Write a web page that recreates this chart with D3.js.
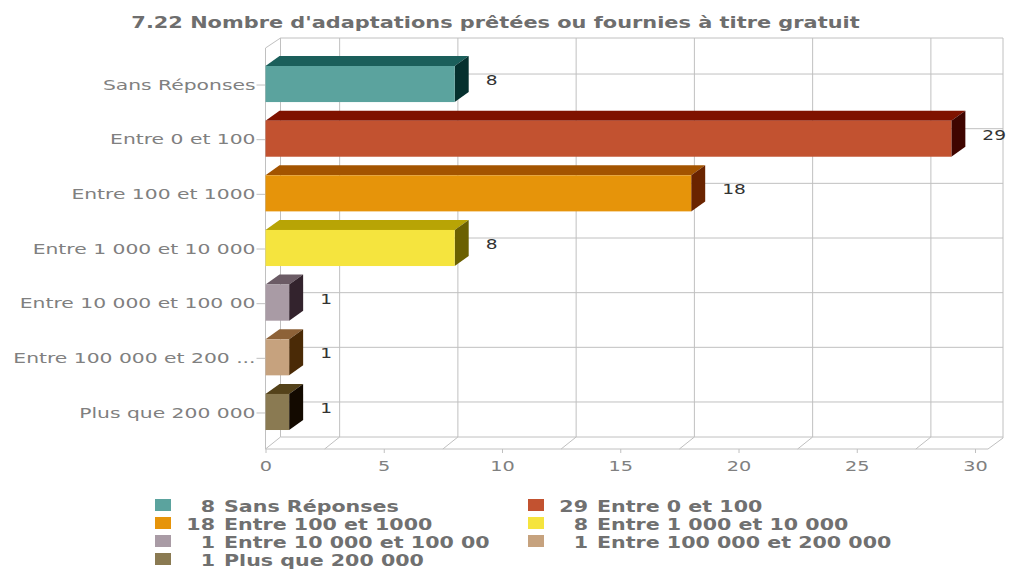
<!DOCTYPE html>
<html>
<head>
<meta charset="utf-8">
<script src="https://cdn.jsdelivr.net/npm/d3@7"></script>
<style>
  html, body { margin: 0; background: #fff; }
  text { font-family: "DejaVu Sans", Verdana, sans-serif; }
</style>
</head>
<body>
<svg id="chart" width="1012" height="569"></svg>
<script>
const title = "7.22 Nombre d'adaptations prêtées ou fournies à titre gratuit";
const categories = ['Sans Réponses', 'Entre 0 et 100', 'Entre 100 et 1000', 'Entre 1 000 et 10 000',
    'Entre 10 000 et 100 00', 'Entre 100 000 et 200 000', 'Plus que 200 000'];
const axisLabels = ['Sans Réponses', 'Entre 0 et 100', 'Entre 100 et 1000', 'Entre 1 000 et 10 000',
    'Entre 10 000 et 100 00', 'Entre 100 000 et 200 ...', 'Plus que 200 000'];
const values = [8, 29, 18, 8, 1, 1, 1];
const xTicks = [0, 5, 10, 15, 20, 25, 30];
// the back wall lines sit halfway between the axis ticks in the original
const wallLines = [2.5, 7.5, 12.5, 17.5, 22.5, 27.5];
const frontColors = ['#5ba39e', '#c25230', '#e6940a', '#f5e43e', '#a99ba5', '#c6a27e', '#8a7a52'];
const topColors = ['#1b5f5b', '#7f1200', '#a35400', '#b8a405', '#6b5b65', '#8d6238', '#54421a'];
const sideColors = ['#05302e', '#3f0500', '#6a2400', '#6b6000', '#33232d', '#4a2a06', '#130a00'];

const svg = d3.select('#chart');
const depthX = 14;
const depthY = 10;
const wallDepthX = 15;
const gridColor = '#c0c0c0';
const floorY = 449;
const topY = 48;
// the screenshot is stretched sideways, so text gets wider than the font
const stretch = 1.33;
const labelStretch = 1.4;

const x = d3.scaleLinear().domain([0, 30]).range([265.5, 975]);
const xEnd = x(30.55);
const y = d3.scaleBand().domain(categories).range([56.7, 439.3]).paddingInner(0.34).paddingOuter(0.17);

// Title
svg.append('text')
    .attr('transform', `translate(495.5,28) scale(${stretch},1)`)
    .attr('text-anchor', 'middle')
    .attr('font-size', '15.7px')
    .attr('font-weight', 'bold')
    .attr('fill', '#6e6e6e')
    .text(title);

// Back wall, left wall and floor
const grid = svg.append('g').attr('fill', 'none').attr('stroke', gridColor).attr('stroke-width', 1);
grid.append('path')
    .attr('d', `M${x(0)},${floorY}V${topY}L${x(0) + wallDepthX},${topY - depthY}H${xEnd + wallDepthX}V${floorY - depthY - 1}L${xEnd},${floorY}H${x(0)}`);
grid.append('path')
    .attr('d', `M${x(0) + wallDepthX},${topY - depthY}V${floorY - depthY - 2}L${x(0)},${floorY}M${x(0) + wallDepthX},${floorY - depthY - 2}H${xEnd + wallDepthX}`);

grid.selectAll('.wall')
    .data(wallLines)
    .enter().append('path')
    .attr('class', 'wall')
    .attr('d', d => `M${x(d) + wallDepthX},${topY - depthY}V${floorY - depthY - 2}L${x(d)},${floorY}`);

grid.selectAll('.row')
    .data(categories)
    .enter().append('line')
    .attr('class', 'row')
    .attr('x1', x(0) + wallDepthX)
    .attr('x2', xEnd + wallDepthX)
    .attr('y1', d => y(d) + y.bandwidth() / 2 - depthY)
    .attr('y2', d => y(d) + y.bandwidth() / 2 - depthY);

// Axes
const xAxis = svg.append('g')
    .attr('transform', `translate(0,${floorY})`)
    .call(d3.axisBottom(x).tickValues(xTicks).tickSize(4).tickPadding(8));
const yAxis = svg.append('g')
    .attr('transform', `translate(${x(0)},1)`)
    .call(d3.axisLeft(y).tickSize(9).tickPadding(1).tickFormat((d, i) => axisLabels[i]));
[xAxis, yAxis].forEach(axis => {
    axis.select('.domain').remove();
    axis.selectAll('line').attr('stroke', gridColor);
    axis.selectAll('text')
        .attr('fill', '#808080')
        .attr('font-size', '14.5px')
        .style('font-family', '"DejaVu Sans", Verdana, sans-serif');
});
xAxis.selectAll('text').attr('transform', `scale(${stretch},1)`);
yAxis.selectAll('text').attr('x', 0).attr('transform', `translate(-10,0) scale(${labelStretch},1)`);

// 3D bars
const bars = svg.selectAll('.bar')
    .data(categories.map((c, i) => ({ name: c, value: values[i], i: i })))
    .enter().append('g')
    .attr('class', 'bar');

bars.append('path')
    .attr('fill', d => topColors[d.i])
    .attr('d', d => `M${x(0)},${y(d.name)}l${depthX},${-depthY}H${x(d.value) + depthX}l${-depthX},${depthY}Z`);
bars.append('path')
    .attr('fill', d => sideColors[d.i])
    .attr('d', d => `M${x(d.value)},${y(d.name)}l${depthX},${-depthY}v${y.bandwidth()}l${-depthX},${depthY}Z`);
bars.append('rect')
    .attr('x', x(0))
    .attr('y', d => y(d.name))
    .attr('width', d => x(d.value) - x(0))
    .attr('height', y.bandwidth())
    .attr('fill', d => frontColors[d.i]);

// Value labels
bars.append('text')
    .attr('transform', d => `translate(${x(d.value) + depthX + 17},${y(d.name) + y.bandwidth() / 2 - 4}) scale(${stretch},1)`)
    .attr('dy', '0.35em')
    .attr('font-size', '14px')
    .attr('fill', '#333')
    .text(d => d.value);

// Legend, two columns
const legendColX = [155, 528];
const legendRowY = [499, 517, 535, 553];
const legend = svg.selectAll('.legend-item')
    .data(categories.map((c, i) => ({ name: c, value: values[i], i: i })))
    .enter().append('g')
    .attr('class', 'legend-item')
    .attr('transform', d => `translate(${legendColX[d.i % 2]},${legendRowY[Math.floor(d.i / 2)]})`);

legend.append('rect')
    .attr('width', 16)
    .attr('height', 12)
    .attr('fill', d => frontColors[d.i]);
legend.append('text')
    .attr('transform', `translate(60,7.5) scale(${stretch},1)`)
    .attr('dy', '0.35em')
    .attr('text-anchor', 'end')
    .attr('font-size', '15.5px')
    .attr('font-weight', 'bold')
    .attr('fill', '#707070')
    .text(d => d.value);
legend.append('text')
    .attr('transform', `translate(69,7.5) scale(${stretch},1)`)
    .attr('dy', '0.35em')
    .attr('font-size', '15.5px')
    .attr('font-weight', 'bold')
    .attr('fill', '#707070')
    .text(d => d.name);
</script>
</body>
</html>
